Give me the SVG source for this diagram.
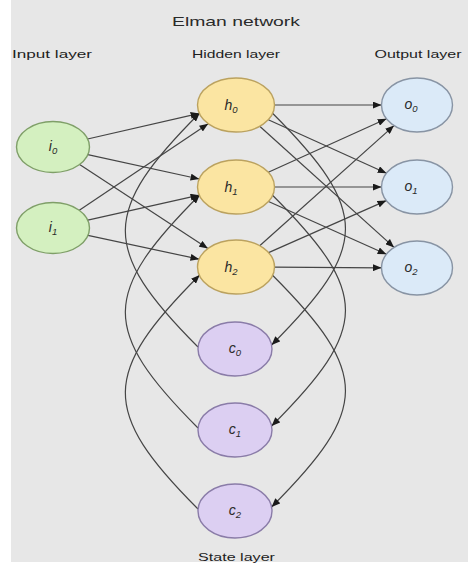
<svg xmlns="http://www.w3.org/2000/svg" width="468" height="563" viewBox="0 0 468 563">
  <defs>
    <marker id="arrow" viewBox="0 0 10 8" markerWidth="9" markerHeight="7" refX="10" refY="4" orient="auto" markerUnits="userSpaceOnUse">
      <path d="M0,0 L10,4 L0,8 z" fill="#1a1a1a"/>
    </marker>
    <style>
      .title { font-family: "Liberation Sans", Arial, sans-serif; font-size: 13.5px; fill: #2a2a2a; text-anchor: middle; }
      .layer { font-family: "Liberation Sans", Arial, sans-serif; font-size: 11.5px; fill: #1e1e1e; text-anchor: middle; }
      .lbl { font-family: "Liberation Sans", Arial, sans-serif; font-size: 14px; font-style: italic; fill: #2a2a2a; text-anchor: middle; }
      .sub { font-size: 9.5px; }
      .node ellipse { stroke-width: 1.4; }
      .in ellipse { fill: #d4f0c0; stroke: #7f9f68; }
      .hid ellipse { fill: #fbe5a2; stroke: #bba25f; }
      .out ellipse { fill: #dbeaf8; stroke: #8894a4; }
      .ctx ellipse { fill: #dccff2; stroke: #8a7ca8; }
      .edges path, .edges line { fill: none; stroke: #454545; stroke-width: 1.2; marker-end: url(#arrow); }
    </style>
  </defs>

  <!-- canvas -->
  <rect x="0" y="0" width="468" height="563" fill="#ffffff"/>
  <rect x="11" y="0" width="457" height="562" fill="#e7e7e7"/>

  <!-- headings -->
  <text class="title" x="236" y="26" textLength="128" lengthAdjust="spacingAndGlyphs">Elman network</text>
  <text class="layer" x="52" y="58" textLength="80" lengthAdjust="spacingAndGlyphs">Input layer</text>
  <text class="layer" x="236" y="58" textLength="88" lengthAdjust="spacingAndGlyphs">Hidden layer</text>
  <text class="layer" x="418" y="58" textLength="87" lengthAdjust="spacingAndGlyphs">Output layer</text>
  <text class="layer" x="236.5" y="561" textLength="77" lengthAdjust="spacingAndGlyphs">State layer</text>

  <!-- connections -->
  <g id="connectors" class="edges">
    <!-- input to hidden -->
    <line x1="87.6" y1="139" x2="199.4" y2="113.4"/>
    <line x1="87.8" y1="154.6" x2="199.3" y2="179"/>
    <line x1="79.6" y1="164.4" x2="207.9" y2="248.6"/>
    <line x1="79.3" y1="210.3" x2="208.2" y2="123.7"/>
    <line x1="87.8" y1="220.2" x2="199.3" y2="195.2"/>
    <line x1="87.9" y1="235.4" x2="199.2" y2="259.2"/>
    <!-- hidden to output -->
    <line x1="274.5" y1="105" x2="381.5" y2="105"/>
    <line x1="268.3" y1="119.7" x2="386.5" y2="173.2"/>
    <line x1="259.7" y1="126.3" x2="394.1" y2="247.4"/>
    <line x1="268.3" y1="172.3" x2="386.5" y2="118.8"/>
    <line x1="274.5" y1="187" x2="381.5" y2="187"/>
    <line x1="268.5" y1="201.5" x2="386.4" y2="254.3"/>
    <line x1="259.7" y1="245.7" x2="394" y2="125.6"/>
    <line x1="268.6" y1="252.6" x2="386.3" y2="200.6"/>
    <line x1="274.5" y1="267.2" x2="381.5" y2="267.8"/>
    <!-- hidden to state (copy) -->
    <path d="M272.3,113 C370.3,211 369.6,247 271.6,345"/>
    <path d="M272.3,195 C370.3,293 369.6,328 271.6,426"/>
    <path d="M272.3,275 C370.3,373 369.6,409 271.6,507"/>
    <!-- state back to hidden -->
    <path d="M198,347 C100,249 101.7,211 199.7,113"/>
    <path d="M198,428 C100,330 101.7,293 199.7,195"/>
    <path d="M198,509 C100,411 101.7,373 199.7,275"/>
  </g>

  <!-- input layer -->
  <g id="node-i0" class="node in">
    <ellipse cx="53" cy="147" rx="36.5" ry="25.5"/>
    <text class="lbl" x="53" y="151">i<tspan class="sub" dy="3">0</tspan></text>
  </g>
  <g id="node-i1" class="node in">
    <ellipse cx="53" cy="228" rx="36.5" ry="25.5"/>
    <text class="lbl" x="53" y="232">i<tspan class="sub" dy="3">1</tspan></text>
  </g>

  <!-- hidden layer -->
  <g id="node-h0" class="node hid">
    <ellipse cx="236" cy="105" rx="38.5" ry="27"/>
    <text class="lbl" x="231" y="110">h<tspan class="sub" dy="3">0</tspan></text>
  </g>
  <g id="node-h1" class="node hid">
    <ellipse cx="236" cy="187" rx="38.5" ry="27"/>
    <text class="lbl" x="231" y="192">h<tspan class="sub" dy="3">1</tspan></text>
  </g>
  <g id="node-h2" class="node hid">
    <ellipse cx="236" cy="267" rx="38.5" ry="27"/>
    <text class="lbl" x="231" y="272">h<tspan class="sub" dy="3">2</tspan></text>
  </g>

  <!-- output layer -->
  <g id="node-o0" class="node out">
    <ellipse cx="417" cy="105" rx="35.5" ry="27"/>
    <text class="lbl" x="411" y="109">o<tspan class="sub" dy="3">0</tspan></text>
  </g>
  <g id="node-o1" class="node out">
    <ellipse cx="417" cy="187" rx="35.5" ry="27"/>
    <text class="lbl" x="411" y="191">o<tspan class="sub" dy="3">1</tspan></text>
  </g>
  <g id="node-o2" class="node out">
    <ellipse cx="417" cy="268" rx="35.5" ry="27"/>
    <text class="lbl" x="411" y="272">o<tspan class="sub" dy="3">2</tspan></text>
  </g>

  <!-- state layer -->
  <g id="node-c0" class="node ctx">
    <ellipse cx="235" cy="349" rx="37" ry="27"/>
    <text class="lbl" x="235" y="353">c<tspan class="sub" dy="3">0</tspan></text>
  </g>
  <g id="node-c1" class="node ctx">
    <ellipse cx="235" cy="430" rx="37" ry="27"/>
    <text class="lbl" x="235" y="434">c<tspan class="sub" dy="3">1</tspan></text>
  </g>
  <g id="node-c2" class="node ctx">
    <ellipse cx="235" cy="511" rx="37" ry="27"/>
    <text class="lbl" x="235" y="515">c<tspan class="sub" dy="3">2</tspan></text>
  </g>
</svg>
